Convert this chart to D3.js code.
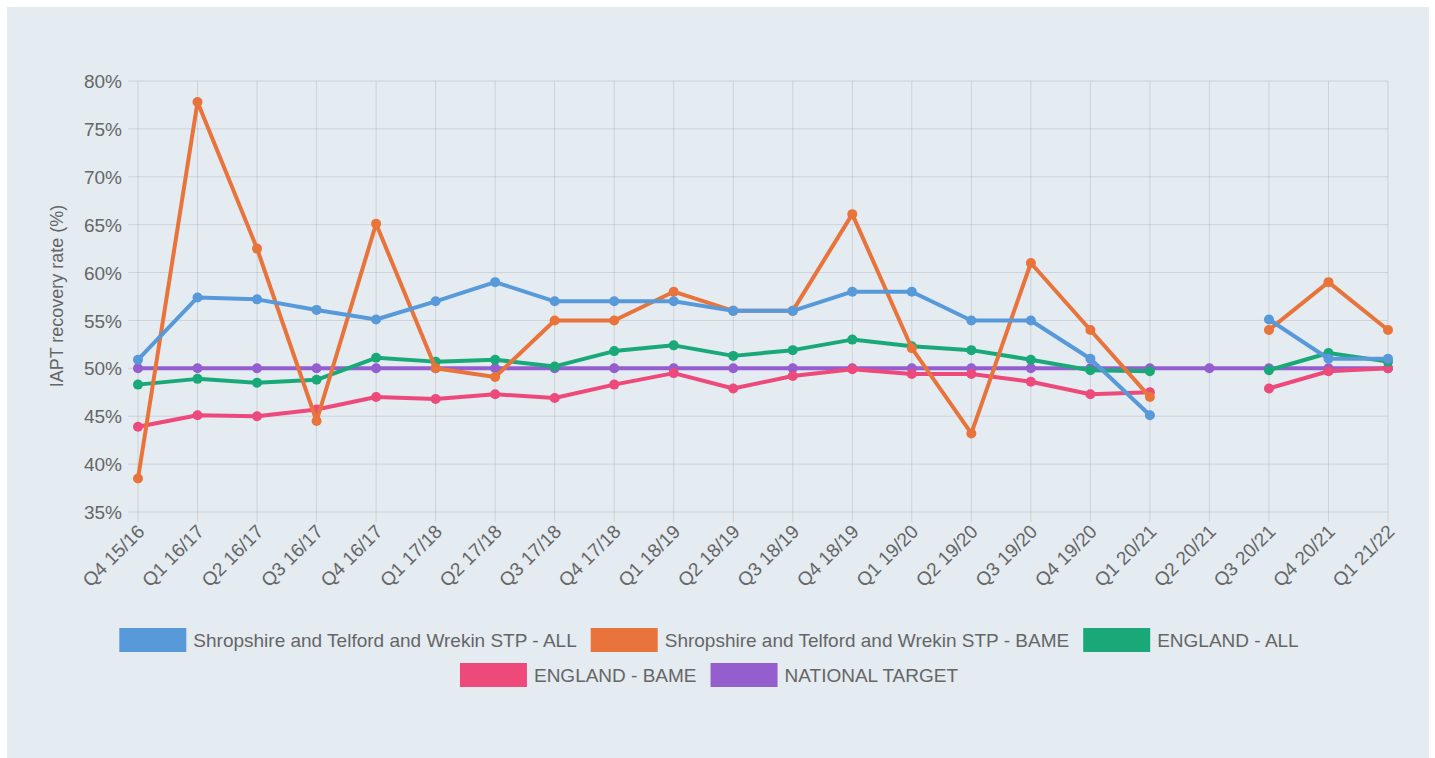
<!DOCTYPE html>
<html><head><meta charset="utf-8">
<script src="https://cdn.jsdelivr.net/npm/d3@7"></script>
<style>
html,body{margin:0;padding:0;background:#fff;}
svg{display:block;font-family:"Liberation Sans",Arial,sans-serif;}
</style></head>
<body>
<svg id="chart" width="1435" height="758"></svg>
<script>
const categories = ["Q4 15/16","Q1 16/17","Q2 16/17","Q3 16/17","Q4 16/17","Q1 17/18","Q2 17/18","Q3 17/18","Q4 17/18","Q1 18/19","Q2 18/19","Q3 18/19","Q4 18/19","Q1 19/20","Q2 19/20","Q3 19/20","Q4 19/20","Q1 20/21","Q2 20/21","Q3 20/21","Q4 20/21","Q1 21/22"];
const stpAll   = [50.9,57.4,57.2,56.1,55.1,57.0,59.0,57.0,57.0,57.0,56.0,56.0,58.0,58.0,55.0,55.0,51.0,45.1,null,55.1,51.0,51.0];
const stpBame  = [38.5,77.8,62.5,44.5,65.1,50.0,49.1,55.0,55.0,58.0,56.0,56.0,66.1,52.1,43.2,61.0,54.0,47.0,null,54.0,59.0,54.0];
const engAll   = [48.3,48.9,48.5,48.8,51.1,50.7,50.9,50.2,51.8,52.4,51.3,51.9,53.0,52.3,51.9,50.9,49.8,49.7,null,49.8,51.6,50.7];
const engBame  = [43.9,45.1,45.0,45.7,47.0,46.8,47.3,46.9,48.3,49.5,47.9,49.2,49.9,49.4,49.4,48.6,47.3,47.5,null,47.9,49.7,50.0];
const target   = [50,50,50,50,50,50,50,50,50,50,50,50,50,50,50,50,50,50,50,50,50,50];
const seriesNames = ["Shropshire and Telford and Wrekin STP - ALL","Shropshire and Telford and Wrekin STP - BAME","ENGLAND - ALL","ENGLAND - BAME","NATIONAL TARGET"];
const seriesColors = ["#5899DA","#E8743B","#19A979","#ED4A7B","#945ECF"];
const yTicks = [35,40,45,50,55,60,65,70,75,80];
const yTitle = "IAPT recovery rate (%)";

const seriesValues = [stpAll, stpBame, engAll, engBame, target];

const svg = d3.select("#chart");
svg.append("rect").attr("x",7).attr("y",7).attr("width",1422).attr("height",751).attr("fill","#e4ebf1");

const x = d3.scalePoint().domain(categories).range([138,1388]);
const y = d3.scaleLinear().domain([35,80]).range([512,81]);

const grid = "rgba(0,0,0,0.1)";
const textCol = "#666";

// horizontal grid + y labels
const yAxis = d3.axisLeft(y).tickValues(yTicks).tickSize(0).tickFormat(d=>d+"%");
const gy = svg.append("g").attr("transform","translate(122,0)").call(yAxis);
gy.select(".domain").remove();
gy.selectAll("text").attr("fill",textCol).attr("font-size","19px").attr("x",0).attr("dy","0.35em");
svg.append("g").selectAll("line").data(yTicks).join("line")
  .attr("x1",128).attr("x2",1388).attr("y1",d=>y(d)).attr("y2",d=>y(d))
  .attr("stroke",grid).attr("stroke-width",1);

// vertical grid + x labels
svg.append("g").selectAll("line").data(categories).join("line")
  .attr("x1",d=>x(d)).attr("x2",d=>x(d)).attr("y1",81).attr("y2",522)
  .attr("stroke",grid).attr("stroke-width",1);
const xAxis = d3.axisBottom(x).tickSize(0);
const gx = svg.append("g").call(xAxis);
gx.select(".domain").remove();
gx.selectAll(".tick").attr("transform",d=>`translate(${x(d)+3},528)`);
gx.selectAll("text").attr("fill",textCol).attr("font-size","19px")
  .attr("y",0).attr("dy","0.35em").attr("text-anchor","end").attr("transform","rotate(-45)");

// y title
svg.append("text").attr("transform","translate(63,296) rotate(-90)")
  .attr("text-anchor","middle").attr("fill",textCol).attr("font-size","18px").text(yTitle);

// lines (draw last series first so first is on top)
const line = d3.line().defined(d=>d.v!==null).x(d=>x(d.c)).y(d=>y(d.v));
for (let s = seriesValues.length-1; s>=0; s--) {
  const data = categories.map((c,i)=>({c, v: seriesValues[s][i]}));
  const g = svg.append("g");
  g.append("path").datum(data).attr("d",line).attr("fill","none")
    .attr("stroke",seriesColors[s]).attr("stroke-width",4).attr("stroke-linejoin","round");
  g.selectAll("circle").data(data.filter(d=>d.v!==null)).join("circle")
    .attr("cx",d=>x(d.c)).attr("cy",d=>y(d.v)).attr("r",5).attr("fill",seriesColors[s]);
}

// legend
const rows = [[0,1,2],[3,4]];
const rowY = [640,675];
const boxW = 67, boxH = 24, gapT = 7, gapI = 14, centerX = 709;
rows.forEach((row,ri)=>{
  const lg = svg.append("g");
  let cx = 0;
  row.forEach(si=>{
    lg.append("rect").attr("x",cx).attr("y",rowY[ri]-boxH/2).attr("width",boxW).attr("height",boxH)
      .attr("fill",seriesColors[si]);
    const t = lg.append("text").attr("x",cx+boxW+gapT).attr("y",rowY[ri]).attr("dy","0.35em")
      .attr("fill",textCol).attr("font-size","19px").text(seriesNames[si]);
    cx += boxW + gapT + t.node().getComputedTextLength() + gapI;
  });
  const total = cx - gapI;
  lg.attr("transform",`translate(${centerX - total/2},0)`);
});
</script>
</body></html>
